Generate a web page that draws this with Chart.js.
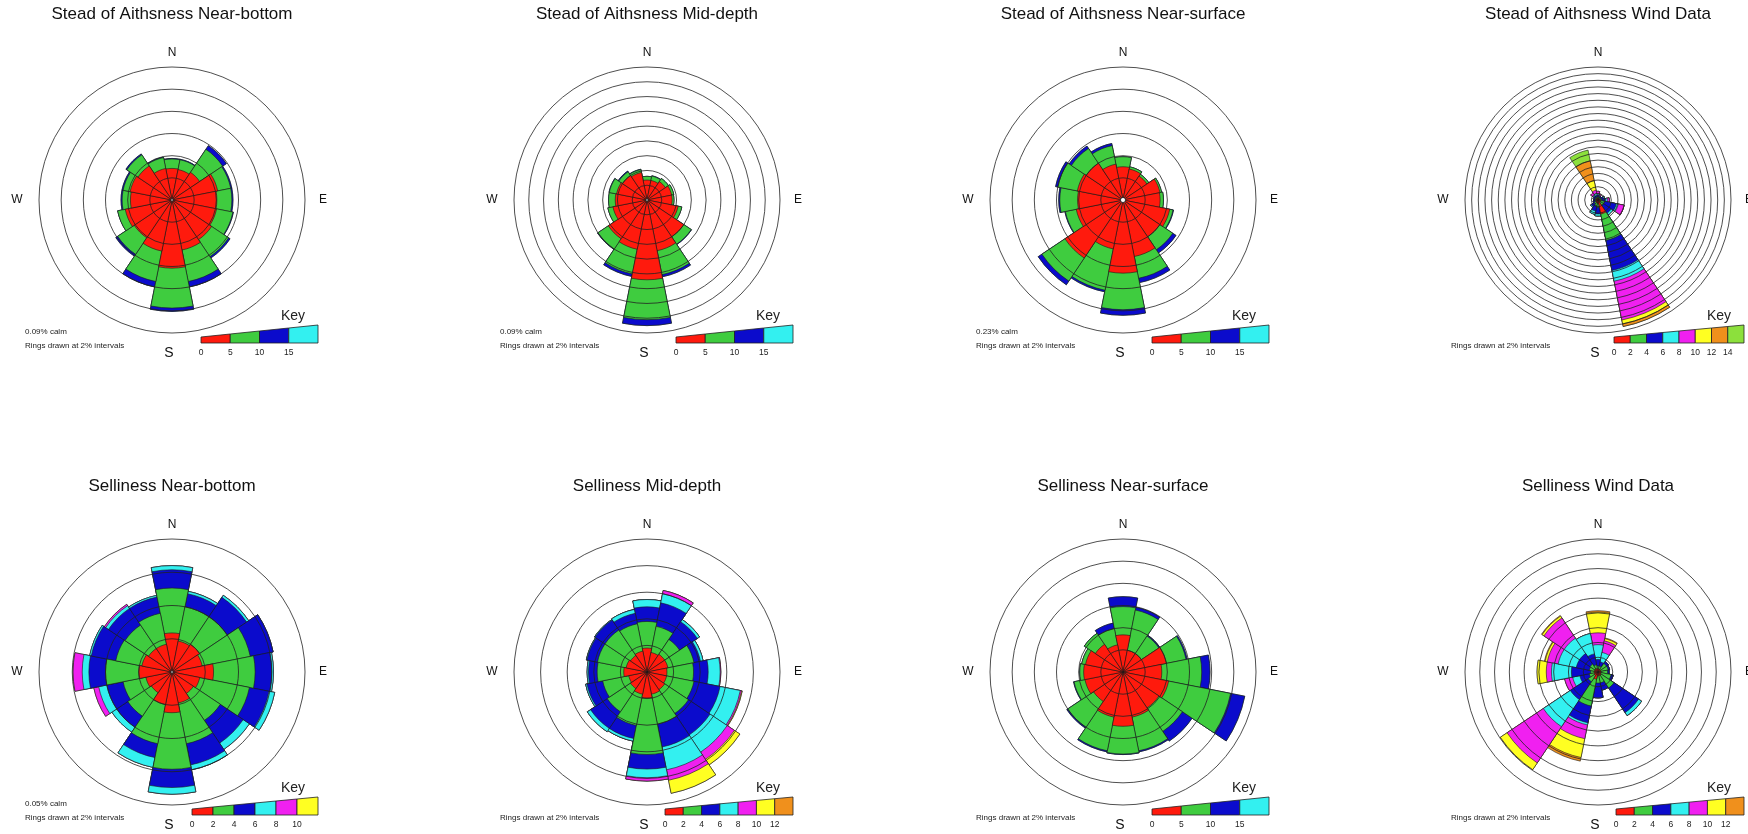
<!DOCTYPE html>
<html>
<head>
<meta charset="utf-8">
<title>Current and wind roses</title>
<script src="https://cdn.jsdelivr.net/npm/chart.js@4.4.1/dist/chart.umd.min.js"></script>
<style>
  html, body { margin: 0; padding: 0; background: #fff; }
  body { width: 1748px; height: 834px; position: relative; overflow: hidden; }
  canvas { position: absolute; }
</style>
</head>
<body>
<script>
const directions = ["N", "NNE", "NE", "ENE", "E", "ESE", "SE", "SSE", "S", "SSW", "SW", "WSW", "W", "WNW", "NW", "NNW"];

// speed classes shown under each key
const currentClasses = ["0", "5", "10", "15"];
const steadWindClasses = ["0", "2", "4", "6", "8", "10", "12", "14"];
const sellBottomClasses = ["0", "2", "4", "6", "8", "10"];
const sellMidClasses = ["0", "2", "4", "6", "8", "10", "12"];
const sellWindClasses = ["0", "2", "4", "6", "8", "10", "12"];

// % of records, one row per direction (N clockwise), one column per speed class
const steadNearBottom = [
  [2.85, 0.85, 0.05, 0], [2.8, 0.9, 0.05, 0], [3.0, 2.5, 0.4, 0], [4.2, 1.2, 0.1, 0],
  [4.05, 1.35, 0.1, 0], [4.1, 1.5, 0.05, 0], [4.3, 1.85, 0.15, 0], [4.6, 2.9, 0.5, 0],
  [6.15, 3.6, 0.3, 0], [4.7, 2.8, 0.5, 0], [4.1, 1.8, 0.2, 0], [4.3, 0.7, 0, 0],
  [3.75, 0.75, 0.1, 0], [3.85, 0.65, 0.1, 0], [3.7, 1.2, 0.1, 0], [2.9, 1.0, 0.05, 0]
];
const steadMidDepth = [
  [2.7, 0.5, 0, 0], [2.7, 0.6, 0.05, 0], [3.0, 0.5, 0, 0], [3.4, 0.3, 0, 0],
  [3.4, 0.25, 0, 0], [4.3, 0.5, 0, 0], [6.0, 1.2, 0.05, 0], [7.0, 3.3, 0.3, 0],
  [10.8, 5.4, 0.8, 0], [6.8, 3.4, 0.35, 0], [6.3, 1.7, 0.05, 0], [4.7, 0.7, 0, 0],
  [4.3, 0.9, 0, 0], [4.2, 1.0, 0.05, 0], [4.0, 0.6, 0.1, 0], [3.8, 0.4, 0.05, 0]
];
const steadNearSurface = [
  [3.0, 0.9, 0, 0], [2.85, 0.2, 0, 0], [2.6, 0.2, 0, 0], [3.4, 0.15, 0, 0],
  [3.35, 0.3, 0, 0], [4.3, 0.3, 0.05, 0], [4.0, 1.4, 0.35, 0], [5.2, 2.0, 0.4, 0],
  [6.6, 3.3, 0.5, 0], [4.5, 3.8, 0.15, 0], [6.3, 2.5, 0.4, 0], [4.3, 1.0, 0.05, 0],
  [4.1, 1.6, 0.1, 0], [4.2, 1.8, 0.2, 0], [4.0, 1.6, 0.25, 0], [3.3, 1.7, 0.2, 0]
];
const steadWind = [
  [0.5, 0.5, 0.5, 0.3, 0.8, 0, 0, 0], [0.4, 0.4, 0.4, 0.2, 0.3, 0, 0, 0],
  [0.4, 0.4, 0.4, 0, 0, 0, 0, 0], [0.4, 0.5, 0.8, 0.4, 0, 0, 0, 0],
  [0.5, 0.6, 1.2, 0.5, 0.6, 0, 0, 0], [0.8, 1.2, 3.6, 0.6, 1.8, 0, 0, 0],
  [0.8, 1.2, 2.8, 0.6, 0, 0, 0, 0], [4.3, 8.1, 9.2, 3.3, 11.9, 1.2, 0.8, 0],
  [1.0, 1.2, 2.0, 0.6, 0, 0, 0, 0], [0.8, 1.0, 1.6, 1.0, 0, 0, 0, 0],
  [0.6, 0.8, 1.0, 0.3, 0, 0, 0, 0], [0.4, 0.5, 0.6, 0, 0, 0, 0, 0],
  [0.4, 0.4, 0.4, 0, 0, 0, 0, 0], [0.4, 0.4, 0.5, 0.2, 0, 0, 0, 0],
  [0.5, 0.5, 0.5, 0.3, 0.8, 0, 0, 0], [0.4, 0.5, 0.5, 0.6, 1.0, 2.9, 6.1, 3.3]
];
const sellNearBottom = [
  [2.35, 2.7, 1.1, 0.25, 0, 0], [1.9, 2.1, 0.8, 0.15, 0, 0], [2.0, 2.0, 1.4, 0.15, 0, 0],
  [1.85, 2.95, 1.4, 0, 0, 0], [2.5, 2.5, 1.0, 0.1, 0, 0], [1.7, 3.05, 1.2, 0.35, 0, 0],
  [1.55, 1.95, 1.65, 0.45, 0, 0], [1.9, 2.5, 1.3, 0.3, 0, 0], [2.45, 3.4, 1.1, 0.4, 0, 0],
  [2.0, 2.4, 0.85, 0.6, 0, 0], [1.5, 1.7, 0.8, 0.35, 0, 0], [1.6, 1.4, 1.0, 0.5, 0.3, 0],
  [2.0, 2.0, 1.0, 0.4, 0.55, 0], [1.85, 1.6, 1.5, 0.1, 0, 0], [1.7, 1.7, 1.2, 0.2, 0.1, 0],
  [1.7, 1.9, 1.0, 0.1, 0, 0]
];
const sellMidDepth = [
  [1.8, 2.0, 1.1, 0.55, 0, 0, 0], [1.5, 2.0, 1.8, 0.7, 0.25, 0, 0],
  [1.6, 1.35, 1.6, 0.2, 0, 0, 0], [1.6, 2.0, 0.5, 0.2, 0, 0, 0],
  [1.5, 2.0, 1.1, 0.9, 0.05, 0, 0], [1.5, 2.1, 2.0, 1.55, 0.1, 0.05, 0],
  [1.6, 2.15, 1.95, 1.55, 0.65, 0.5, 0], [1.7, 2.3, 1.75, 1.75, 0.8, 1.0, 0],
  [1.95, 4.25, 1.1, 0.65, 0.25, 0, 0], [1.7, 2.4, 1.0, 0.2, 0, 0, 0],
  [1.5, 2.1, 1.5, 0.3, 0, 0, 0], [1.4, 2.0, 1.2, 0.1, 0, 0, 0],
  [1.75, 2.0, 0.65, 0.1, 0, 0, 0], [1.6, 2.2, 0.8, 0.05, 0, 0, 0],
  [1.5, 2.3, 0.9, 0.05, 0, 0, 0], [1.6, 2.1, 0.8, 0.3, 0, 0, 0]
];
const sellNearSurface = [
  [3.35, 2.55, 0.9, 0], [2.0, 3.7, 0.25, 0], [2.0, 1.9, 0.1, 0], [4.0, 1.8, 0.1, 0],
  [3.5, 3.6, 0.75, 0], [4.2, 5.7, 1.3, 0], [3.9, 2.55, 1.05, 0], [4.15, 3.1, 0.1, 0],
  [4.9, 2.5, 0.05, 0], [4.15, 3.1, 0.1, 0], [3.2, 2.8, 0.1, 0], [3.5, 1.0, 0.05, 0],
  [3.55, 0.35, 0, 0], [3.45, 0.35, 0, 0], [3.0, 1.2, 0, 0], [2.5, 1.5, 0.5, 0]
];
const sellWind = [
  [0.4, 0.4, 0.9, 2.0, 1.6, 2.8, 0.2], [0.4, 0.4, 0.6, 1.3, 1.6, 0.3, 0.1],
  [0.4, 1.0, 0.3, 0, 0, 0, 0], [0.4, 1.0, 0.2, 0, 0, 0, 0],
  [0.4, 0.9, 0.2, 0, 0, 0, 0], [0.4, 1.4, 0.3, 0, 0, 0, 0],
  [0.5, 2.1, 4.0, 0.5, 0, 0, 0], [0.5, 1.0, 1.0, 0, 0, 0, 0],
  [0.5, 1.0, 2.0, 0, 0, 0, 0], [1.0, 3.7, 2.3, 0.3, 1.9, 2.6, 0.5],
  [0.6, 1.0, 2.9, 4.4, 5.9, 1.1, 0], [0.5, 0.7, 1.3, 1.0, 1.1, 0, 0],
  [0.5, 0.5, 2.6, 2.7, 0.7, 1.25, 0], [0.5, 0.7, 1.8, 2.5, 1.5, 0.3, 0.1],
  [0.5, 0.8, 1.7, 2.5, 3.3, 0.3, 0.1], [0.5, 0.5, 1.5, 2.8, 0, 0, 0]
];

const classColours = ["#ff1a0d", "#3fcc3f", "#0b0bcc", "#33f0f0", "#f020f0", "#ffff22", "#f0901c", "#8ce03c"];

const roses = [
  { title: "Stead of Aithsness Near-bottom", values: steadNearBottom, classes: currentClasses, max: 12, calm: 0.09 },
  { title: "Stead of Aithsness Mid-depth", values: steadMidDepth, classes: currentClasses, max: 18, calm: 0.09 },
  { title: "Stead of Aithsness Near-surface", values: steadNearSurface, classes: currentClasses, max: 12, calm: 0.23 },
  { title: "Stead of Aithsness Wind Data", values: steadWind, classes: steadWindClasses, max: 40 },
  { title: "Selliness Near-bottom", values: sellNearBottom, classes: sellBottomClasses, max: 8, calm: 0.05 },
  { title: "Selliness Mid-depth", values: sellMidDepth, classes: sellMidClasses, max: 10 },
  { title: "Selliness Near-surface", values: sellNearSurface, classes: currentClasses, max: 12 },
  { title: "Selliness Wind Data", values: sellWind, classes: sellWindClasses, max: 18 }
];

const FONT = '"Liberation Sans", Arial, sans-serif';
Chart.defaults.font.family = FONT;

// compass letters, key, notes and calm circle
const roseExtras = {
  id: "roseExtras",
  afterDraw(chart, args, opts) {
    const ctx = chart.ctx;
    const r = chart.scales.r;
    const cx = r.xCenter, cy = r.yCenter;
    ctx.save();

    if (opts.calm) {
      ctx.beginPath();
      ctx.arc(cx, cy, Math.max(r.getDistanceFromCenterForValue(opts.calm), 1.2), 0, Math.PI * 2);
      ctx.fillStyle = "#fff";
      ctx.fill();
      ctx.strokeStyle = "#111";
      ctx.lineWidth = 0.8;
      ctx.stroke();
    }

    ctx.fillStyle = "#111";
    ctx.textAlign = "center";
    ctx.textBaseline = "middle";
    ctx.font = "12px " + FONT;
    ctx.fillText("N", cx, cy - 147);
    ctx.fillText("E", cx + 151, cy);
    ctx.fillText("W", cx - 155, cy);
    ctx.font = "14px " + FONT;
    ctx.fillText("S", cx - 3, cy + 153);

    // key: tapered bar of speed classes
    const n = opts.classes.length;
    const total = n === 4 ? 117 : 126 + (n - 6) * 2;
    const right = cx + 146, left = right - total, bottom = cy + 143;
    const w = total / n;
    const topAt = x => bottom - 6 - 12 * (x - left) / total;
    ctx.lineWidth = 0.8;
    ctx.strokeStyle = "#222";
    for (let i = 0; i < n; i++) {
      const x0 = left + i * w, x1 = x0 + w;
      ctx.beginPath();
      ctx.moveTo(x0, bottom);
      ctx.lineTo(x1, bottom);
      ctx.lineTo(x1, topAt(x1));
      ctx.lineTo(x0, topAt(x0));
      ctx.closePath();
      ctx.fillStyle = classColours[i];
      ctx.fill();
      ctx.stroke();
      ctx.fillStyle = "#222";
      ctx.font = "8.5px " + FONT;
      ctx.fillText(opts.classes[i], x0, cy + 153);
    }
    ctx.font = "14px " + FONT;
    ctx.fillText("Key", cx + 121, cy + 116);

    ctx.textAlign = "left";
    ctx.font = "8px " + FONT;
    if (opts.calm) ctx.fillText(opts.calm.toFixed(2) + "% calm", cx - 147, cy + 132);
    ctx.fillText("Rings drawn at 2% intervals", cx - 147, cy + 146);
    ctx.restore();
  }
};

const centresX = [172, 647, 1123, 1598];
const rowTop = [0, 472];

function drawRose(rose, index) {
  const canvas = document.createElement("canvas");
  canvas.width = 340;
  canvas.height = 380;
  canvas.style.left = (centresX[index % 4] - 170) + "px";
  canvas.style.top = rowTop[Math.floor(index / 4)] + "px";
  document.body.appendChild(canvas);

  // stacked classes drawn as overlapping cumulative wedges, innermost on top
  const datasets = rose.classes.map((cls, j) => ({
    label: cls,
    data: rose.values.map(row => row.slice(0, j + 1).reduce((a, b) => a + b, 0)),
    backgroundColor: classColours[j],
    borderColor: "#1a1a1a",
    borderWidth: 0.6
  }));

  new Chart(canvas, {
    type: "polarArea",
    data: { labels: directions, datasets: datasets },
    options: {
      responsive: false,
      animation: false,
      layout: { padding: { left: 37, right: 37, top: 0, bottom: 47 } },
      plugins: {
        legend: { display: false },
        tooltip: { enabled: false },
        title: {
          display: true,
          text: rose.title,
          color: "#111",
          font: { size: 17, weight: "normal" },
          padding: { top: 4, bottom: 42.6 }
        },
        roseExtras: { classes: rose.classes, calm: rose.calm }
      },
      scales: {
        r: {
          min: 0,
          max: rose.max,
          startAngle: -11.25,
          ticks: { display: false, stepSize: 2 },
          grid: { circular: true, color: "#222", lineWidth: 0.8, z: 1 },
          angleLines: { display: false },
          pointLabels: { display: false }
        }
      }
    },
    plugins: [roseExtras]
  });
}

roses.forEach(drawRose);
</script>
</body>
</html>
